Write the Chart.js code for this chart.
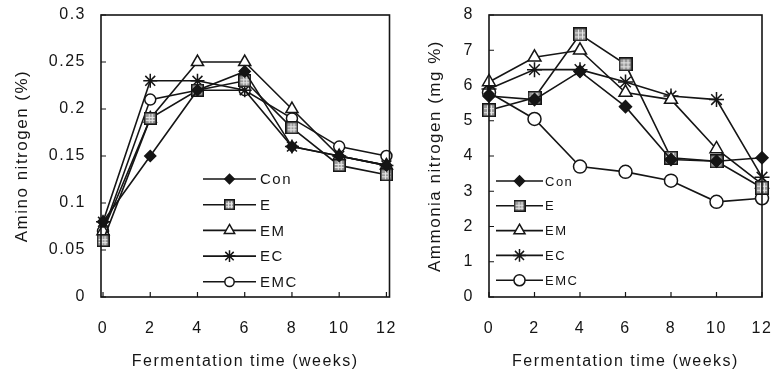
<!DOCTYPE html>
<html>
<head>
<meta charset="utf-8">
<script src="https://cdn.jsdelivr.net/npm/chart.js@4.4.1/dist/chart.umd.min.js"></script>
<style>
html, body { margin: 0; padding: 0; background: #fff; }
#wrap { position: relative; width: 775px; height: 374px; overflow: hidden; }
#leftBox { position: absolute; left: 0; top: 0; z-index: 2; }
#rightBox { position: absolute; left: 390px; top: 0; z-index: 1; }
</style>
</head>
<body>
<div id="wrap">
  <div id="leftBox"><canvas id="amino" width="398" height="374"></canvas></div>
  <div id="rightBox"><canvas id="ammonia" width="385" height="374"></canvas></div>
</div>
<script>
// x categories (weeks)
var weeks = [0, 2, 4, 6, 8, 10, 12];
var seriesNames = ['Con', 'E', 'EM', 'EC', 'EMC'];

// Amino nitrogen (%)
var aminoCon = [0.08, 0.15, 0.22, 0.24, 0.16, 0.15, 0.14];
var aminoE   = [0.06, 0.19, 0.22, 0.23, 0.18, 0.14, 0.13];
var aminoEM  = [0.07, 0.19, 0.25, 0.25, 0.20, 0.15, 0.14];
var aminoEC  = [0.08, 0.23, 0.23, 0.22, 0.16, 0.15, 0.14];
var aminoEMC = [0.07, 0.21, 0.22, 0.22, 0.19, 0.16, 0.15];

// Ammonia nitrogen (mg %)
var ammoniaCon = [5.7, 5.6, 6.4, 5.4, 3.9, 3.85, 3.95];
var ammoniaE   = [5.3, 5.65, 7.45, 6.6, 3.95, 3.85, 3.1];
var ammoniaEM  = [6.1, 6.8, 7.0, 5.8, 5.6, 4.2, 3.2];
var ammoniaEC  = [5.9, 6.45, 6.45, 6.1, 5.7, 5.6, 3.4];
var ammoniaEMC = [5.8, 5.05, 3.7, 3.55, 3.3, 2.7, 2.8];

// y tick steps
var aminoTicks = [0, 0.05, 0.1, 0.15, 0.2, 0.25, 0.3];
var ammoniaTicks = [0, 1, 2, 3, 4, 5, 6, 7, 8];

var FONT = '"Liberation Sans", Arial, Helvetica, sans-serif';
var INK = '#151515';

// gray square with a light grid inside, like the "E" marker
function gridSquare(size) {
    var c = document.createElement('canvas');
    c.width = size; c.height = size;
    var g = c.getContext('2d');
    g.fillStyle = INK;
    g.fillRect(0, 0, size, size);
    g.fillStyle = '#9a9a9a';
    g.fillRect(1.5, 1.5, size - 3, size - 3);
    g.strokeStyle = '#e6e6e6';
    g.lineWidth = 1;
    for (var k = 1; k <= 2; k++) {
        var p = Math.round(1.5 + (size - 3) * k / 3) + 0.5;
        g.beginPath(); g.moveTo(p, 2); g.lineTo(p, size - 2); g.stroke();
        g.beginPath(); g.moveTo(2, p); g.lineTo(size - 2, p); g.stroke();
    }
    return c;
}

function toPoints(values) {
    return weeks.map(function(w, i) { return {x: w, y: values[i]}; });
}

function makeDatasets(values, sizes) {
    var styles = [
        {pointStyle: 'rectRot', bg: INK, r: sizes.con},
        {pointStyle: gridSquare(sizes.sq), bg: '#9a9a9a', r: sizes.sq / 2},
        {pointStyle: 'triangle', bg: '#fff', r: sizes.tri},
        {pointStyle: 'star', bg: INK, r: sizes.star},
        {pointStyle: 'circle', bg: '#fff', r: sizes.circ}
    ];
    return values.map(function(vals, i) {
        var s = styles[i];
        return {
            label: seriesNames[i],
            data: toPoints(vals),
            borderColor: INK,
            borderWidth: 1.6,
            pointStyle: s.pointStyle,
            pointRadius: s.r,
            pointHoverRadius: s.r,
            pointBackgroundColor: s.bg,
            pointBorderColor: INK,
            pointBorderWidth: 1.5,
            legendRadius: s.r * sizes.legendScale,
            legendImage: i === 1 ? gridSquare(sizes.legendSq) : null,
            clip: false,
            tension: 0
        };
    });
}

// box round the plot area plus short inward tick marks
var frameTicks = {
    id: 'frameTicks',
    beforeDraw: function(chart) {
        chart.ctx.letterSpacing = '1.5px';
    },
    afterDraw: function(chart) {
        var ctx = chart.ctx, a = chart.chartArea;
        var xs = chart.scales.x, ys = chart.scales.y;
        ctx.save();
        ctx.strokeStyle = INK;
        ctx.lineWidth = 1.6;
        ctx.strokeRect(a.left, a.top, a.right - a.left, a.bottom - a.top);
        ctx.lineWidth = 1.2;
        ctx.beginPath();
        weeks.forEach(function(w) {
            var px = xs.getPixelForValue(w);
            ctx.moveTo(px, a.bottom);
            ctx.lineTo(px, a.bottom - 5);
        });
        ys.ticks.forEach(function(t) {
            var py = ys.getPixelForValue(t.value);
            ctx.moveTo(a.left, py);
            ctx.lineTo(a.left + 5, py);
        });
        ctx.stroke();
        ctx.restore();
    }
};

// legend drawn inside the plot area, rows counted up from the x axis
var insideLegend = {
    id: 'insideLegend',
    afterDatasetsDraw: function(chart, args, opts) {
        var ctx = chart.ctx, a = chart.chartArea;
        ctx.save();
        chart.data.datasets.forEach(function(ds, i) {
            var y = a.bottom - opts.fromBottom + i * opts.gap;
            var x0 = a.left + opts.left;
            var xm = x0 + opts.length / 2;
            ctx.strokeStyle = INK;
            ctx.lineWidth = 1.6;
            ctx.beginPath();
            ctx.moveTo(x0, y);
            ctx.lineTo(x0 + opts.length, y);
            ctx.stroke();
            ctx.fillStyle = ds.pointBackgroundColor;
            ctx.strokeStyle = INK;
            ctx.lineWidth = 1.5;
            var style = ds.legendImage || ds.pointStyle;
            Chart.helpers.drawPoint(ctx, {
                pointStyle: style,
                radius: ds.legendRadius,
                borderWidth: 1.5,
                rotation: 0
            }, xm, y);
            ctx.fillStyle = INK;
            ctx.font = opts.font;
            ctx.textBaseline = 'middle';
            ctx.textAlign = 'left';
            ctx.fillText(ds.label, x0 + opts.length + opts.textGap, y + 1);
        });
        ctx.restore();
    }
};

function buildChart(id, cfg) {
    return new Chart(document.getElementById(id), {
        type: 'line',
        data: {datasets: cfg.datasets},
        options: {
            responsive: false,
            animation: false,
            devicePixelRatio: 1,
            layout: {padding: {top: 15, right: cfg.padRight, bottom: 0, left: 0}},
            plugins: {
                legend: {display: false},
                tooltip: {enabled: false},
                insideLegend: cfg.legend
            },
            scales: {
                x: {
                    type: 'linear',
                    min: cfg.xMin,
                    max: cfg.xMax,
                    grid: {display: false},
                    border: {display: false},
                    afterBuildTicks: function(scale) {
                        scale.ticks = weeks.map(function(w) { return {value: w}; });
                    },
                    afterFit: function(scale) {
                        scale.height = 77;
                        scale.paddingLeft = 0;
                        scale.paddingRight = 0;
                    },
                    ticks: {
                        color: INK,
                        padding: 14,
                        maxRotation: 0,
                        autoSkip: false,
                        font: {family: FONT, size: 16}
                    },
                    title: {
                        display: true,
                        text: 'Fermentation time (weeks)',
                        color: INK,
                        padding: {top: 0, bottom: 3},
                        font: {family: FONT, size: 16}
                    }
                },
                y: {
                    min: cfg.yTicks[0],
                    max: cfg.yTicks[cfg.yTicks.length - 1],
                    grid: {display: false},
                    border: {display: false},
                    afterBuildTicks: function(scale) {
                        scale.ticks = cfg.yTicks.map(function(v) { return {value: v}; });
                    },
                    afterFit: function(scale) {
                        scale.width = cfg.yWidth;
                        scale.paddingTop = 0;
                        scale.paddingBottom = 0;
                    },
                    ticks: {
                        color: INK,
                        padding: 7,
                        font: {family: FONT, size: 16},
                        callback: function(v) { return String(+Number(v).toFixed(2)); }
                    },
                    title: {
                        display: true,
                        text: cfg.yTitle,
                        color: INK,
                        padding: {top: cfg.yTitlePad, bottom: 0},
                        font: {family: FONT, size: 17}
                    }
                }
            }
        },
        plugins: [frameTicks, insideLegend]
    });
}

buildChart('amino', {
    datasets: makeDatasets([aminoCon, aminoE, aminoEM, aminoEC, aminoEMC],
        {con: 5.5, sq: 13, tri: 7, star: 7, circ: 5.5, legendScale: 0.85, legendSq: 11}),
    xMin: -0.085, xMax: 12.13,
    padRight: 1,
    yWidth: 101,
    yTicks: aminoTicks,
    yTitle: 'Amino nitrogen (%)',
    yTitlePad: 12,
    legend: {left: 102, fromBottom: 118, gap: 25.7, length: 53, textGap: 4, font: '15px ' + FONT}
});

buildChart('ammonia', {
    datasets: makeDatasets([ammoniaCon, ammoniaE, ammoniaEM, ammoniaEC, ammoniaEMC],
        {con: 6, sq: 14, tri: 7.5, star: 7.5, circ: 6.5, legendScale: 0.85, legendSq: 12}),
    xMin: 0, xMax: 12,
    padRight: 13,
    yWidth: 99,
    yTicks: ammoniaTicks,
    yTitle: 'Ammonia nitrogen (mg %)',
    yTitlePad: 35,
    legend: {left: 7, fromBottom: 116, gap: 24.8, length: 47, textGap: 2, font: '13px ' + FONT}
});
</script>
</body>
</html>
